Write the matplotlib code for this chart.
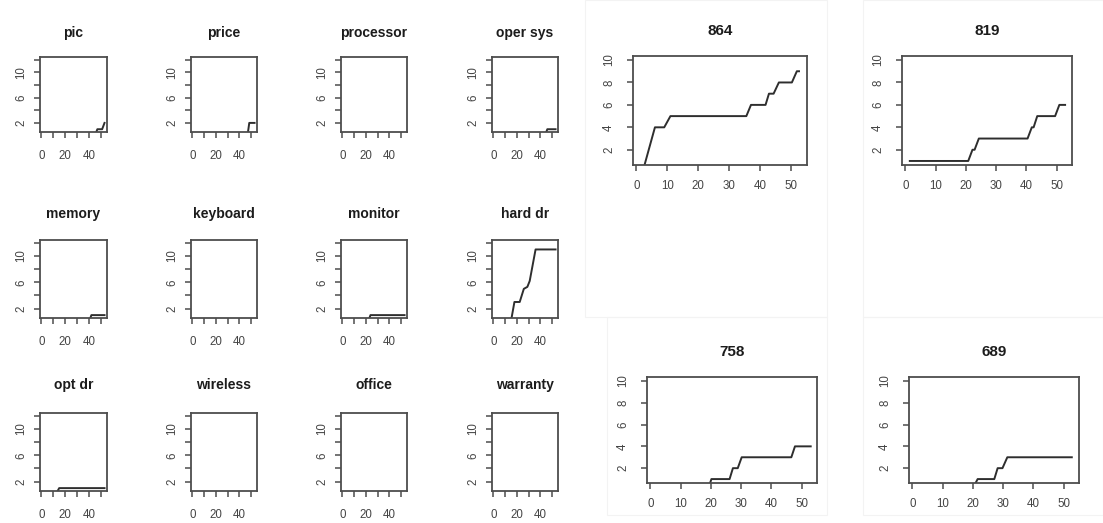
"""Cumulative mention counts per week: twelve feature panels plus four product panels."""

import matplotlib
matplotlib.use("Agg")
import matplotlib.pyplot as plt
from matplotlib.patches import Rectangle

W, H = 1103, 523

INK = "#1c1c1c"
LINE = "#2e2e2e"
AXIS = "#4d4d4d"
LABEL = "#444444"
FAINT = "#f3f3f3"

plt.rcParams["font.family"] = ["Liberation Sans", "DejaVu Sans"]

# ---- feature panels (week vs cumulative count) ----------------------------
pic_x, pic_y = [45, 47, 51, 53], [0, 1, 1, 2]
price_x, price_y = [47, 48.5, 53], [0, 2, 2]
processor_x, processor_y = [1, 53], [0, 0]
opersys_x, opersys_y = [44, 46, 53], [0, 1, 1]
memory_x, memory_y = [40, 42, 53], [0, 1, 1]
keyboard_x, keyboard_y = [1, 53], [0, 0]
monitor_x, monitor_y = [22, 24, 53], [0, 1, 1]
harddr_x = [15, 18, 22.5, 26, 29, 31, 36, 53]
harddr_y = [0, 3, 3, 5, 5.3, 6.2, 11, 11]
optdr_x, optdr_y = [1, 12, 15, 53], [0, 0, 1, 1]
wireless_x, wireless_y = [1, 53], [0, 0]
office_x, office_y = [1, 53], [0, 0]
warranty_x, warranty_y = [1, 53], [0, 0]

SMALL = [
    ("pic", pic_x, pic_y), ("price", price_x, price_y),
    ("processor", processor_x, processor_y), ("oper sys", opersys_x, opersys_y),
    ("memory", memory_x, memory_y), ("keyboard", keyboard_x, keyboard_y),
    ("monitor", monitor_x, monitor_y), ("hard dr", harddr_x, harddr_y),
    ("opt dr", optdr_x, optdr_y), ("wireless", wireless_x, wireless_y),
    ("office", office_x, office_y), ("warranty", warranty_x, warranty_y),
]
SMALL_XTICKS = [0, 10, 20, 30, 40, 50]
SMALL_XLABELS = ["0", "", "20", "", "40", ""]
SMALL_YTICKS = [2, 4, 6, 8, 10, 12]
SMALL_YLABELS = ["2", "", "6", "", "10", ""]

# ---- product panels ---------------------------------------------------------
p864_x = [2, 6, 9, 11, 35.5, 37, 41.7, 42.8, 44.3, 46, 50.2, 51.8, 52.5]
p864_y = [0, 4, 4, 5, 5, 6, 6, 7, 7, 8, 8, 9, 9]
p819_x = [1.5, 20.8, 22.2, 22.9, 24.3, 40.4, 41.8, 42.4, 43.6, 49.5, 50.9, 52.8]
p819_y = [1, 1, 2, 2, 3, 3, 4, 4, 5, 5, 6, 6]
p758_x = [19, 20.2, 26.2, 27.3, 28.9, 30.2, 46.6, 47.8, 53]
p758_y = [0, 1, 1, 2, 2, 3, 3, 4, 4]
p689_x = [19.7, 21.6, 27.1, 28.2, 29.8, 31.4, 52.7]
p689_y = [0, 1, 1, 2, 2, 3, 3]

BIG = [("864", p864_x, p864_y), ("819", p819_x, p819_y),
       ("758", p758_x, p758_y), ("689", p689_x, p689_y)]
BIG_XTICKS = [0, 10, 20, 30, 40, 50]
BIG_YTICKS = [2, 4, 6, 8, 10]


def add_box(fig, left, top, right, bottom):
    return fig.add_axes([left / W, 1 - bottom / H, (right - left) / W, (bottom - top) / H])


def style_axis(ax, title, title_px, title_size, ylim, yticks, ylabels,
               xticks, xlabels, xpad, ypad):
    ax.set_xlim(-1.08, 55.08)
    ax.set_ylim(*ylim)
    for side in ax.spines.values():
        side.set_color(AXIS)
        side.set_linewidth(1.3)
    ax.set_xticks(xticks, xlabels)
    ax.set_yticks(yticks, ylabels)
    ax.tick_params(direction="out", length=4.4, width=1.1, color=AXIS,
                   labelcolor=LABEL, labelsize=8.3)
    ax.tick_params(axis="x", pad=xpad)
    ax.tick_params(axis="y", pad=ypad, labelrotation=90)
    for lab in ax.get_yticklabels():
        lab.set_va("center")
    ax.annotate(title, xy=(0.5, 1), xycoords="axes fraction",
                xytext=(0, title_px * 0.72), textcoords="offset points",
                ha="center", va="center", fontsize=title_size,
                fontweight="bold", color=INK)


def main() -> None:
    fig = plt.figure(figsize=(W / 100, H / 100), dpi=100)
    fig.set_facecolor("white")

    # faint edges of the pasted screenshots on the right
    for l, t, r, b in [(585, 0, 827, 317), (863, 0, 1103, 317),
                       (607, 317, 827, 515), (863, 317, 1103, 515)]:
        fig.add_artist(Rectangle((l / W, 1 - b / H), (r - l) / W, (b - t) / H,
                                 transform=fig.transFigure, fill=False,
                                 edgecolor=FAINT, linewidth=0.8))

    cols = [(40, 107), (191, 257), (341, 407), (492, 558)]
    rows = [(57, 132, 24), (240, 318, 26), (413, 491, 28)]
    for i, (title, xs, ys) in enumerate(SMALL):
        l, r = cols[i % 4]
        t, b, off = rows[i // 4]
        ax = add_box(fig, l, t, r, b)
        ax.plot(xs, ys, color=LINE, linewidth=1.4)
        style_axis(ax, title, off, 10, (0.56, 12.44), SMALL_YTICKS, SMALL_YLABELS,
                   SMALL_XTICKS, SMALL_XLABELS, xpad=8.5, ypad=4.8)

    big_boxes = [(633, 56, 807, 165), (902, 56, 1072, 165),
                 (647, 377, 817, 483), (909, 377, 1079, 483)]
    for (title, xs, ys), (l, t, r, b) in zip(BIG, big_boxes):
        ax = add_box(fig, l, t, r, b)
        ax.plot(xs, ys, color=LINE, linewidth=1.4)
        style_axis(ax, title, 24.5, 11, (0.64, 10.36), BIG_YTICKS,
                   [str(v) for v in BIG_YTICKS], BIG_XTICKS,
                   [str(v) for v in BIG_XTICKS], xpad=6.5, ypad=8.5)

    fig.savefig("out.png", dpi=100, facecolor="white")
    plt.close(fig)


if __name__ == "__main__":
    main()
